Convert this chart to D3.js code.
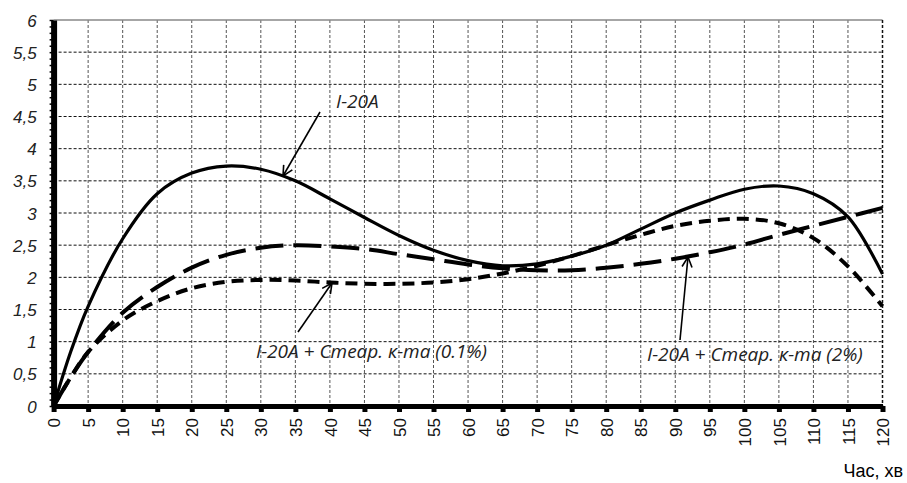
<!DOCTYPE html>
<html>
<head>
<meta charset="utf-8">
<script src="https://cdn.jsdelivr.net/npm/d3@7"></script>
<style>
  body { margin: 0; background: #fff; }
  svg { display: block; }
</style>
</head>
<body>
<div id="application"></div>
<script>
// час, хв
var minutes = [0, 2.5, 5, 10, 15, 20, 25, 30, 35, 40, 45, 50, 55, 60, 65, 70, 75, 80, 85, 90, 95, 100, 105, 110, 115, 120];

// I-20A
var base_oil = [0, 0.85, 1.55, 2.6, 3.3, 3.62, 3.73, 3.68, 3.5, 3.22, 2.93, 2.65, 2.42, 2.26, 2.18, 2.21, 2.33, 2.5, 2.75, 3.0, 3.2, 3.37, 3.42, 3.3, 2.94, 2.05];

// I-20A + стеар. к-та (0.1%)
var stear_01 = [0, 0.45, 0.84, 1.33, 1.63, 1.83, 1.93, 1.96, 1.95, 1.92, 1.9, 1.9, 1.92, 1.97, 2.06, 2.18, 2.33, 2.5, 2.66, 2.8, 2.88, 2.91, 2.84, 2.61, 2.17, 1.55];

// I-20A + стеар. к-та (2%)
var stear_2 = [0, 0.45, 0.84, 1.45, 1.85, 2.15, 2.35, 2.46, 2.5, 2.48, 2.44, 2.36, 2.28, 2.2, 2.14, 2.11, 2.11, 2.15, 2.21, 2.29, 2.39, 2.51, 2.66, 2.8, 2.94, 3.08];

var x_ticks = d3.range(0, 121, 5);
var y_ticks = [0, 0.5, 1, 1.5, 2, 2.5, 3, 3.5, 4, 4.5, 5, 5.5, 6];

var width = 907;
var height = 483;

var margin = {
  top: 20,
  bottom: 77,
  right: 24.5,
  left: 53.6
};

var svg = d3.select("#application")
  .append('svg')
  .attr('width', width)
  .attr('height', height);

var defs = svg.append('defs');
defs.append('marker')
  .attr('id', 'arrow')
  .attr('viewBox', '0 0 12 12')
  .attr('refX', 11)
  .attr('refY', 6)
  .attr('markerWidth', 12)
  .attr('markerHeight', 12)
  .attr('markerUnits', 'userSpaceOnUse')
  .attr('orient', 'auto')
  .append('path')
  .attr('d', 'M1,1 L11,6 L1,11')
  .attr('fill', 'none')
  .attr('stroke', '#000')
  .attr('stroke-width', 1.6);

var w = width - margin.left - margin.right;
var h = height - margin.top - margin.bottom;

var g = svg.append('g')
  .attr('transform', 'translate(' + margin.left + ',' + margin.top + ')');

var x = d3.scaleLinear().domain([0, 120]).range([0, w]);
var y = d3.scaleLinear().domain([0, 6]).range([h, 0]);

// grid
g.append('g')
  .selectAll('line')
  .data(x_ticks.slice(1))
  .enter().append('line')
  .attr('x1', d => x(d)).attr('x2', d => x(d))
  .attr('y1', 0).attr('y2', h)
  .attr('stroke', '#555')
  .attr('stroke-width', 1)
  .attr('stroke-dasharray', '3 2');

g.append('g')
  .selectAll('line')
  .data(y_ticks.slice(1, -1))
  .enter().append('line')
  .attr('x1', 0).attr('x2', w)
  .attr('y1', d => y(d)).attr('y2', d => y(d))
  .attr('stroke', '#111')
  .attr('stroke-width', 1)
  .attr('stroke-dasharray', '3 2');

// top border
g.append('line')
  .attr('x1', 0).attr('x2', w)
  .attr('y1', 0).attr('y2', 0)
  .attr('stroke', '#888')
  .attr('stroke-width', 1.5);

// right border
g.append('line')
  .attr('x1', w).attr('x2', w)
  .attr('y1', 0).attr('y2', h)
  .attr('stroke', '#111')
  .attr('stroke-width', 1.5)
  .attr('stroke-dasharray', '3 2');

// lines
var line = d3.line()
  .x(function(d) { return x(d[0]); })
  .y(function(d) { return y(d[1]); })
  .curve(d3.curveCatmullRom.alpha(0.5));

function pairs(values) {
  return minutes.map(function(m, i) { return [m, values[i]]; });
}

g.append('path')
  .datum(pairs(stear_2))
  .attr('d', line)
  .attr('fill', 'none')
  .attr('stroke', '#000')
  .attr('stroke-width', 4)
  .attr('stroke-dasharray', '28 10');

g.append('path')
  .datum(pairs(stear_01))
  .attr('d', line)
  .attr('fill', 'none')
  .attr('stroke', '#000')
  .attr('stroke-width', 4)
  .attr('stroke-dasharray', '12 7');

g.append('path')
  .datum(pairs(base_oil))
  .attr('d', line)
  .attr('fill', 'none')
  .attr('stroke', '#000')
  .attr('stroke-width', 3.2);

// y axis: minor ticks + thick line
var y_minor = d3.range(0, 61).map(d => d / 10);
g.append('g')
  .call(d3.axisLeft(y).tickValues(y_minor).tickSize(4).tickSizeOuter(0).tickFormat(''))
  .call(a => a.select('.domain').attr('stroke-width', 6))
  .call(a => a.selectAll('.tick line').attr('stroke-width', 1.5));

g.append('g')
  .call(d3.axisLeft(y).tickValues(y_ticks).tickSize(0).tickPadding(17)
    .tickFormat(d => String(d).replace('.', ',')))
  .call(a => a.select('.domain').remove())
  .selectAll('text')
  .attr('dy', '0.36em')
  .style('font-family', '"Liberation Sans", Arial, sans-serif')
  .style('font-style', 'italic')
  .style('font-size', '17px')
  .attr('fill', '#222');

// x axis
var xa = g.append('g')
  .attr('transform', 'translate(0,' + h + ')')
  .call(d3.axisBottom(x).tickValues(x_ticks).tickSize(6).tickSizeOuter(0));

xa.select('.domain').attr('stroke-width', 5);
xa.selectAll('.tick line').attr('stroke-width', 5);
xa.selectAll('.tick text')
  .attr('transform', 'rotate(-90)')
  .attr('x', -12)
  .attr('y', 0)
  .attr('dy', '0.36em')
  .style('text-anchor', 'end')
  .style('font-family', '"Liberation Sans", Arial, sans-serif')
  .style('font-size', '17px')
  .attr('fill', '#111');

svg.append('text')
  .attr('x', 903)
  .attr('y', 477)
  .attr('text-anchor', 'end')
  .style('font-family', '"Liberation Sans", Arial, sans-serif')
  .style('font-size', '18px')
  .text('Час, хв');

// annotations
var notes = [
  { text: 'I-20A', tx: 336, ty: 108, from: [320, 112], to: [283, 176] },
  { text: 'I-20A + Стеар. к-та (0.1%)', tx: 256, ty: 358, from: [298, 332], to: [332, 283] },
  { text: 'I-20A + Стеар. к-та (2%)', tx: 647, ty: 361, from: [680, 340], to: [688, 257] }
];

notes.forEach(function(n) {
  svg.append('line')
    .attr('x1', n.from[0]).attr('y1', n.from[1])
    .attr('x2', n.to[0]).attr('y2', n.to[1])
    .attr('stroke', '#000')
    .attr('stroke-width', 1.6)
    .attr('marker-end', 'url(#arrow)');

  svg.append('text')
    .attr('x', n.tx)
    .attr('y', n.ty)
    .style('font-family', '"Open Sans", "Noto Sans", sans-serif')
    .style('font-style', 'italic')
    .style('font-size', '19px')
    .attr('fill', '#222')
    .text(n.text);
});
</script>
</body>
</html>
